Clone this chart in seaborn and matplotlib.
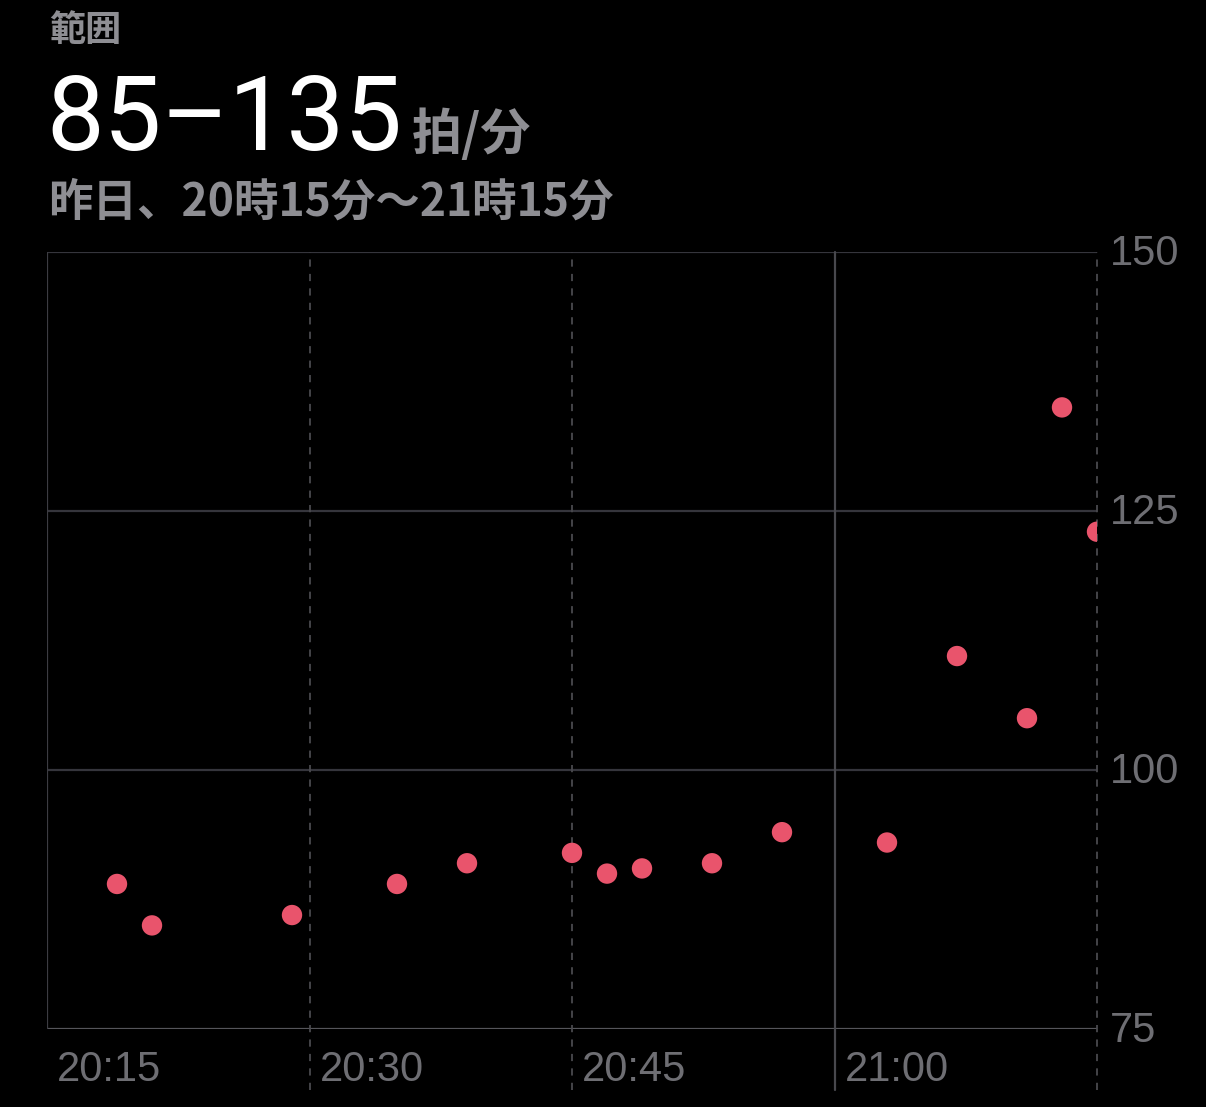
import matplotlib
matplotlib.use("Agg")
import matplotlib.pyplot as plt
import matplotlib.transforms as mtransforms
import seaborn as sns
import pandas as pd

# ---- data (minutes after 20:15, bpm) ----
minutes = [4, 6, 14, 20, 24, 30, 32, 34, 38, 42, 48, 52, 56, 58, 60]
bpm = [89, 85, 86, 89, 91, 92, 90, 90.5, 91, 94, 93, 111, 105, 135, 123]
xtick_pos = [0, 15, 30, 45]
xtick_labels = ["20:15", "20:30", "20:45", "21:00"]
ytick_pos = [75, 100, 125, 150]
ytick_labels = ["75", "100", "125", "150"]
header_label = "範囲"
range_text = "85–135"
unit_text = "拍/分"
period_text = "昨日、20時15分〜21時15分"

df = pd.DataFrame({"minute": minutes, "bpm": bpm})

sns.set_theme(style="dark")
plt.rcParams["font.family"] = ["Noto Sans CJK JP", "DejaVu Sans"]

BG = "#000000"
GRID = "#35353c"
VSOLID = "#48484d"
BASE = "#55555a"
TICK = "#6e6e73"
HEAD = "#8e8e93"
DOT = "#e9546c"

fig = plt.figure(figsize=(12.06, 11.07), dpi=100, facecolor=BG)
W, H = 1206, 1107
left, right, top, bottom = 47, 1097, 252, 1029
ax = fig.add_axes([left / W, 1 - bottom / H, (right - left) / W, (bottom - top) / H])
ax.set_facecolor(BG)

sns.scatterplot(data=df, x="minute", y="bpm", ax=ax, color=DOT, s=215,
                edgecolor="none", linewidth=0, zorder=5, legend=False)

ax.set_xlim(0, 60)
ax.set_ylim(75, 150)
ax.grid(False)
for sp in ax.spines.values():
    sp.set_visible(False)
ax.set_xlabel("")
ax.set_ylabel("")

# horizontal grid
for y in ytick_pos:
    col = BASE if y == 75 else GRID
    ax.axhline(y, color=col, lw=1.6, zorder=1)
# left edge
ax.axvline(0, color="#3c3c42", lw=1.6, zorder=1)
# vertical lines extending below plot
ext = (1090 - bottom) / (bottom - top)
for xp in [15, 30, 45, 60]:
    if xp == 45:
        ax.axvline(xp, ymin=-ext, ymax=1, color=VSOLID, lw=1.6, zorder=1, clip_on=False)
    else:
        ax.axvline(xp, ymin=-ext, ymax=1, color="#4a4a4e", lw=1.3, ls=(0, (4, 4)),
                   zorder=1, clip_on=False)

# x tick labels
ax.set_xticks(xtick_pos, xtick_labels)
ax.tick_params(axis="x", length=0, pad=0, labelsize=30, labelcolor=TICK)
offx = mtransforms.ScaledTranslation(10 / 100, -41 / 100, fig.dpi_scale_trans)
for lbl in ax.get_xticklabels():
    lbl.set_ha("left")
    lbl.set_va("center")
    lbl.set_family(["Liberation Sans", "DejaVu Sans"])
    lbl.set_transform(lbl.get_transform() + offx)

# y tick labels on right
ax.yaxis.tick_right()
ax.set_yticks(ytick_pos, ytick_labels)
ax.tick_params(axis="y", length=0, pad=9, labelsize=30, labelcolor=TICK)
offy = mtransforms.ScaledTranslation(0, -2 / 100, fig.dpi_scale_trans)
for lbl in ax.get_yticklabels():
    lbl.set_va("center")
    lbl.set_family(["Liberation Sans", "DejaVu Sans"])
    lbl.set_transform(lbl.get_transform() + offy)

# header texts
fig.text(49 / W, 1 - 31 / H, header_label, color=HEAD, fontsize=26, fontweight="bold",
         ha="left", va="center")
fig.text(46 / W, 1 - 150 / H, range_text, color="white", fontsize=74,
         family=["Roboto", "DejaVu Sans"], ha="left", va="baseline")
fig.text(412 / W, 1 - 150 / H, unit_text, color=HEAD, fontsize=36, fontweight="bold",
         ha="left", va="baseline")
fig.text(48 / W, 1 - 203 / H, period_text, color=HEAD, fontsize=32, fontweight="bold",
         ha="left", va="center")

fig.savefig("out.png", dpi=100, facecolor=BG)
